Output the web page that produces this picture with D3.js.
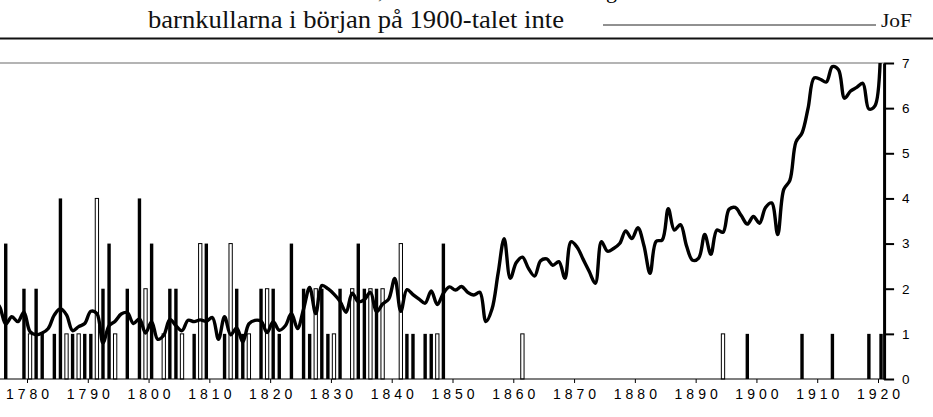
<!DOCTYPE html>
<html>
<head>
<meta charset="utf-8">
<script src="https://cdn.jsdelivr.net/npm/d3@7/dist/d3.min.js"></script>
<style>
body { margin: 0; background: #fff; }
svg { display: block; }
</style>
</head>
<body>
<div id="views"></div>
<script>
// line: one value per year, starting in lineStart
var lineStart = 1774;
var lineValues = [
    1.75, 1.60, 1.22, 1.38, 1.27, 1.48,
    1.05, 0.98, 1.02, 1.12, 1.42, 1.56, 1.42, 1.07, 1.16, 1.23,
    1.50, 1.45, 0.80, 1.18, 1.28, 1.44, 1.47, 1.23, 1.33, 1.02,
    1.27, 0.88, 0.97, 1.32, 1.18, 1.07, 1.30, 1.27, 1.31, 1.28,
    1.36, 0.88, 1.38, 0.98, 1.13, 0.82, 1.22, 1.30, 1.28, 1.03,
    1.27, 1.08, 1.18, 1.45, 1.12, 1.55, 2.03, 1.45, 2.07, 2.00,
    1.88, 1.72, 1.48, 1.90, 1.71, 1.76, 1.92, 1.49, 1.66, 1.77,
    2.23, 1.50, 1.98, 1.87, 1.77, 1.68, 1.95, 1.65, 1.90, 2.04,
    1.97, 2.05, 1.92, 1.86, 1.92, 1.27, 1.55, 2.34, 3.11, 2.23,
    2.58, 2.70, 2.45, 2.28, 2.62, 2.66, 2.52, 2.60, 2.23, 3.04,
    2.92, 2.65, 2.38, 2.12, 3.04, 2.83, 2.89, 3.00, 3.28, 3.11,
    3.35, 2.95, 2.34, 3.05, 3.08, 3.77, 3.30, 3.42, 2.95, 2.63,
    2.68, 3.20, 2.76, 3.30, 3.25, 3.76, 3.80, 3.62, 3.43, 3.60,
    3.45, 3.80, 3.90, 3.20, 4.20, 4.40, 5.25, 5.45, 6.00, 6.67,
    6.64, 6.58, 6.92, 6.85, 6.22, 6.38, 6.46, 6.55, 5.98, 6.05,
    9.00
];

// bars: year, count, filled (1 = black, 0 = white)
var barYears = [1776, 1779, 1780, 1781, 1782, 1784, 1785, 1786, 1787, 1788, 1789,
    1790, 1791, 1792, 1793, 1794, 1796, 1798, 1799,
    1800, 1802, 1803, 1804, 1805, 1807, 1808, 1809,
    1812, 1813, 1814, 1815, 1816, 1818, 1819,
    1820, 1821, 1823, 1825, 1826, 1827, 1828, 1829,
    1830, 1831, 1833, 1834, 1835, 1836, 1837, 1838,
    1841, 1842, 1843, 1845, 1846, 1847, 1848,
    1861, 1894, 1898, 1907, 1912, 1918, 1920];
var barValues = [3, 2, 1, 2, 1, 1, 4, 1, 1, 1, 1,
    1, 4, 2, 3, 1, 2, 4, 2,
    3, 1, 2, 2, 1, 1, 3, 3,
    1, 3, 2, 1, 1, 2, 2,
    2, 1, 3, 2, 1, 2, 2, 1,
    1, 2, 2, 3, 2, 2, 2, 2,
    3, 1, 1, 1, 1, 1, 3,
    1, 1, 1, 1, 1, 1, 1];
var barFilled = [1, 1, 0, 1, 1, 1, 1, 0, 1, 0, 1,
    1, 0, 1, 1, 0, 1, 1, 0,
    1, 0, 1, 1, 0, 1, 0, 1,
    1, 0, 1, 1, 0, 1, 0,
    1, 1, 1, 1, 1, 0, 1, 1,
    0, 1, 0, 1, 1, 0, 1, 0,
    0, 1, 1, 1, 1, 0, 1,
    0, 0, 1, 1, 1, 1, 1];

var decadeTicks = [1780, 1790, 1800, 1810, 1820, 1830, 1840, 1850, 1860, 1870, 1880, 1890, 1900, 1910, 1920];
var valueTicks = [0, 1, 2, 3, 4, 5, 6, 7];

var headerText = "barnkullarna i början på 1900-talet inte";
var headerMark = "JoF";

var w = 933, h = 417;
var svg;
var xScale = d3.scaleLinear().domain([1780, 1920]).range([27, 878]);
var yScale = d3.scaleLinear().domain([0, 7]).range([379, 63]);
var axisYear = 1921;

function renderHeader() {
    // cut-off line of the previous text row, only descenders left
    svg.append("text").attr("x", 378).attr("y", -2)
        .attr("font-family", "Liberation Serif").attr("font-size", 22).text(",");
    svg.append("text").attr("x", 606).attr("y", -2)
        .attr("font-family", "Liberation Serif").attr("font-size", 22).text("g");

    // the scan is stretched sideways, so the texts are too
    svg.append("text")
        .attr("x", 148).attr("y", 27.5)
        .attr("font-family", "Liberation Serif")
        .attr("font-size", 25)
        .attr("textLength", 416)
        .attr("lengthAdjust", "spacingAndGlyphs")
        .attr("fill", "#111")
        .text(headerText);

    svg.append("line")
        .attr("x1", 603).attr("x2", 876).attr("y1", 25).attr("y2", 25)
        .attr("stroke", "#222").attr("stroke-width", 1);

    svg.append("text")
        .attr("x", 881).attr("y", 26.5)
        .attr("font-family", "Liberation Serif")
        .attr("font-size", 19)
        .attr("textLength", 31)
        .attr("lengthAdjust", "spacingAndGlyphs")
        .attr("fill", "#111")
        .text(headerMark);

    svg.append("line")
        .attr("x1", 0).attr("x2", w).attr("y1", 38.5).attr("y2", 38.5)
        .attr("stroke", "#111").attr("stroke-width", 2);
}

function renderChart() {
    var plotRight = xScale(axisYear);

    svg.append("defs").append("clipPath").attr("id", "plotClip")
        .append("rect")
        .attr("x", 0).attr("y", yScale(7))
        .attr("width", plotRight).attr("height", yScale(0) - yScale(7));

    // grey top border of the plot area
    svg.append("line")
        .attr("x1", 0).attr("x2", plotRight)
        .attr("y1", yScale(7)).attr("y2", yScale(7))
        .attr("stroke", "#b4b4b4").attr("stroke-width", 2);

    var bars = barYears.map(function(d, i) {
        return { year: d, value: barValues[i], filled: barFilled[i] };
    });

    svg.append("g").attr("class", "bars")
        .selectAll("rect")
        .data(bars)
        .enter().append("rect")
            .attr("x", function(d) { return xScale(d.year + 0.5) - (d.filled ? 1.7 : 1.65); })
            .attr("y", function(d) { return yScale(d.value); })
            .attr("width", function(d) { return d.filled ? 3.4 : 3.3; })
            .attr("height", function(d) { return yScale(0) - yScale(d.value); })
            .attr("fill", function(d) { return d.filled ? "#000" : "#fff"; })
            .attr("stroke", function(d) { return d.filled ? "none" : "#000"; })
            .attr("stroke-width", 1);

    var line = d3.line()
        .x(function(d, i) { return xScale(lineStart + i + 0.5); })
        .y(function(d) { return yScale(d); })
        .curve(d3.curveCatmullRom.alpha(0.5));

    svg.append("path")
        .attr("clip-path", "url(#plotClip)")
        .attr("d", line(lineValues))
        .attr("fill", "none")
        .attr("stroke", "#000")
        .attr("stroke-width", 3.4)
        .attr("stroke-linejoin", "round");

    // baseline
    svg.append("line")
        .attr("x1", 0).attr("x2", plotRight)
        .attr("y1", yScale(0)).attr("y2", yScale(0))
        .attr("stroke", "#000").attr("stroke-width", 1.2);

    var xAxis = d3.axisBottom(xScale).tickValues(decadeTicks)
        .tickSize(4).tickSizeOuter(0).tickPadding(6).tickFormat(d3.format("d"));
    var gx = svg.append("g").attr("transform", "translate(0," + yScale(0) + ")").call(xAxis);
    gx.select(".domain").remove();
    gx.selectAll("line").attr("stroke", "#000");
    gx.selectAll("text")
        .attr("font-family", "Liberation Sans")
        .attr("font-size", 14)
        .attr("letter-spacing", "4px")
        .attr("dx", "2px")
        .attr("fill", "#000");

    var yAxis = d3.axisRight(yScale).tickValues(valueTicks)
        .tickSize(10).tickSizeOuter(0).tickPadding(8).tickFormat(d3.format("d"));
    var gy = svg.append("g").attr("transform", "translate(" + plotRight + ",0)").call(yAxis);
    gy.select(".domain").attr("stroke", "#000").attr("stroke-width", 3);
    gy.selectAll(".tick line").attr("stroke", "#000").attr("stroke-width", 2);
    gy.selectAll("text")
        .attr("font-family", "Liberation Sans")
        .attr("font-size", 13.5)
        .attr("fill", "#000");
}

function initChart() {
    svg = d3.select("#views").append("svg").attr("width", w).attr("height", h);
    renderHeader();
    renderChart();
}

initChart();
</script>
</body>
</html>
